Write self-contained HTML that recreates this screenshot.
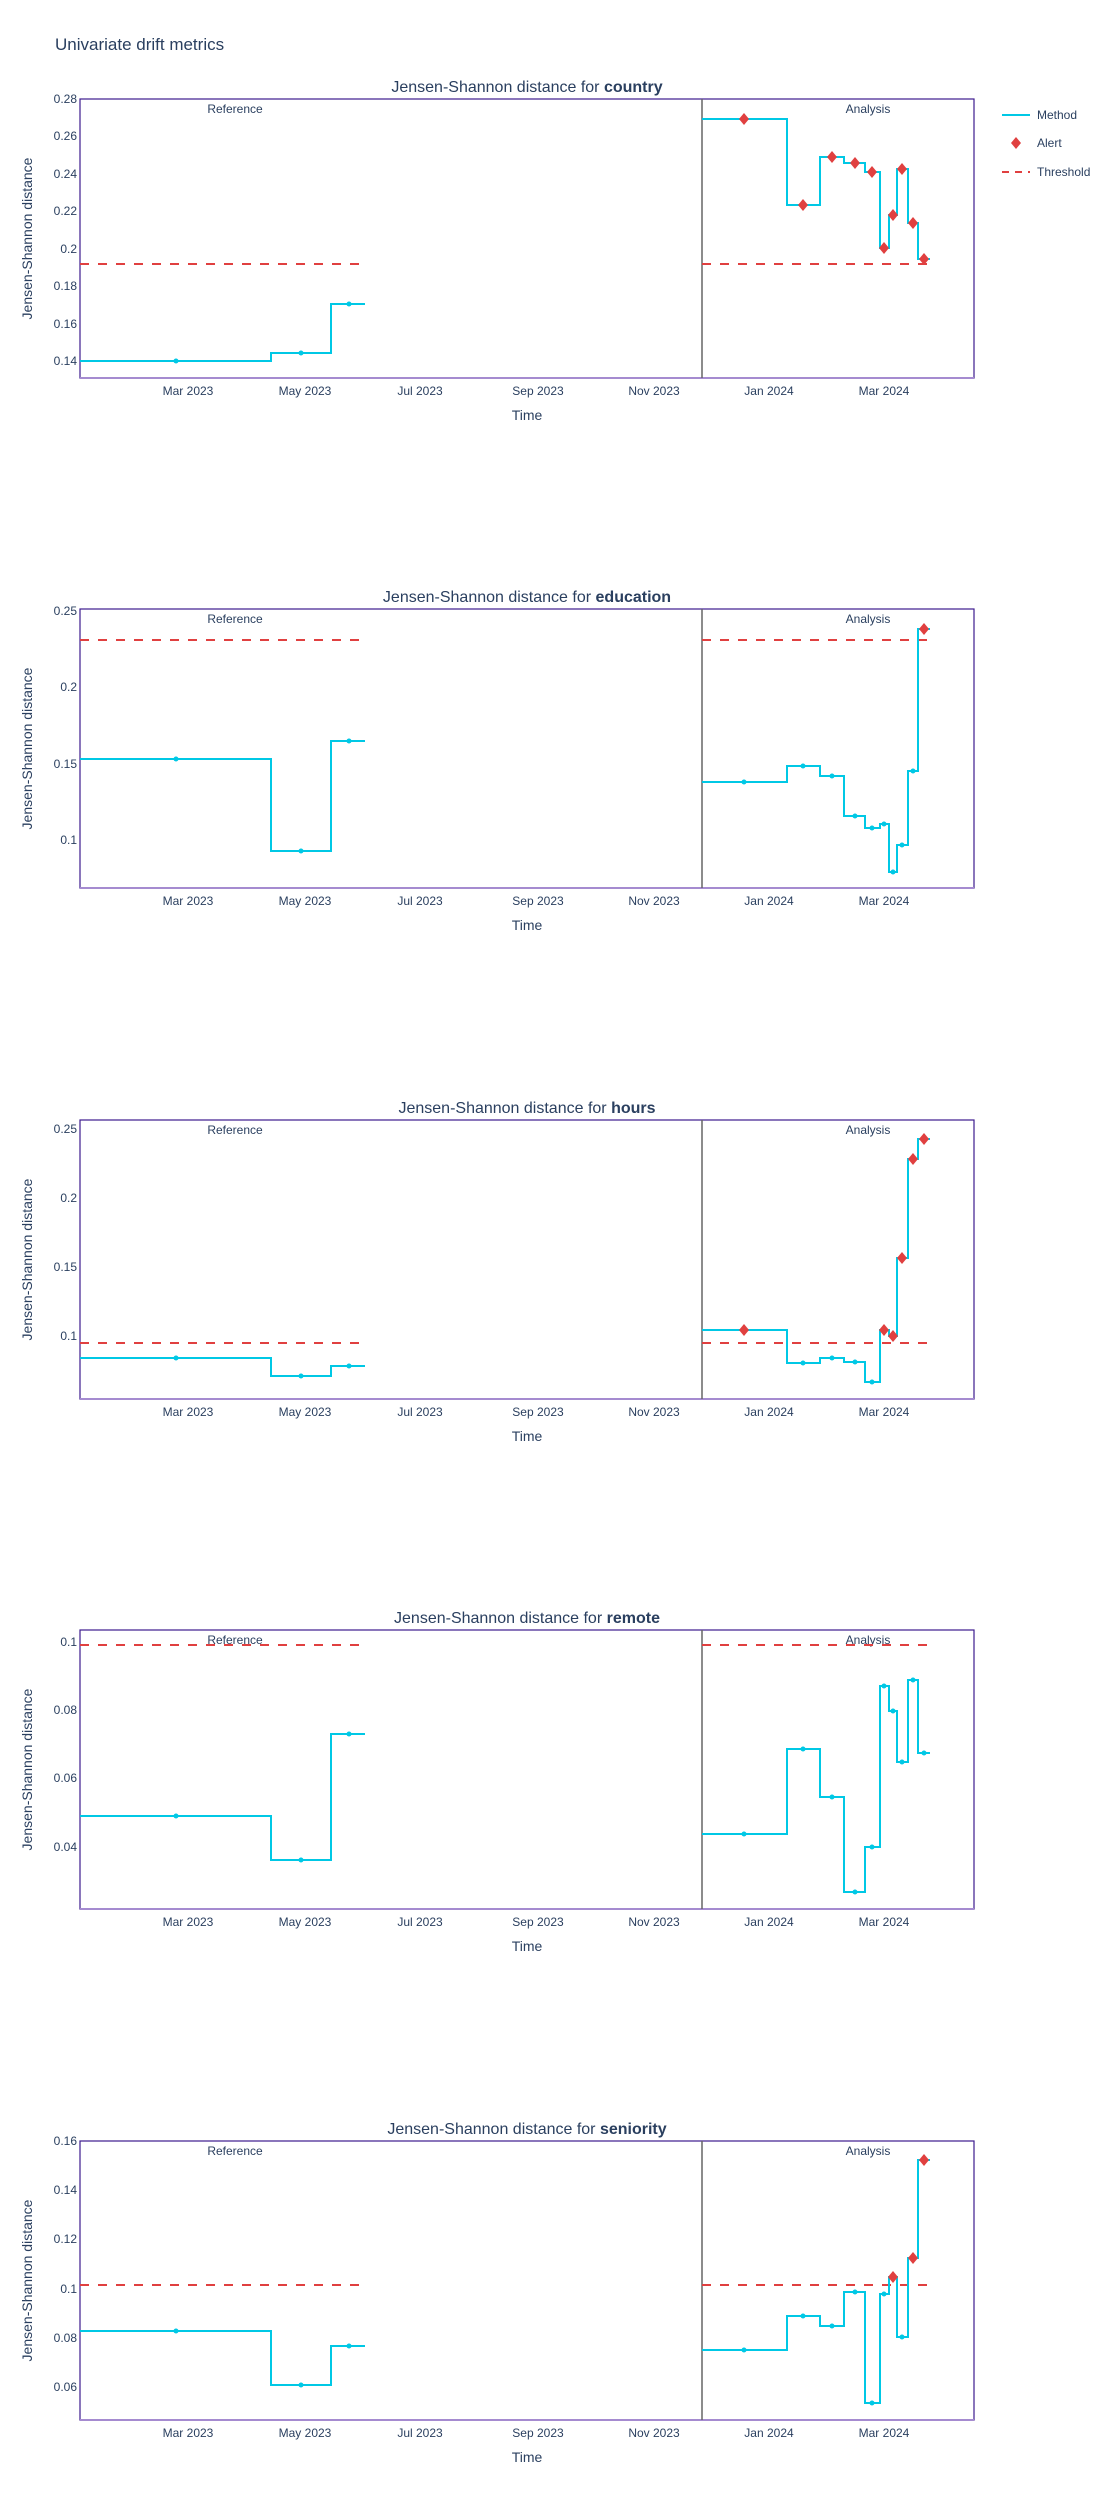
<!DOCTYPE html>
<html><head><meta charset="utf-8"><style>
body{margin:0;background:#fff;}
svg{display:block;font-family:"Liberation Sans",sans-serif;}
</style></head><body>
<svg id="s" width="1106" height="2500" xmlns="http://www.w3.org/2000/svg">
<rect width="1106" height="2500" fill="#fff"/>
<text x="55" y="50" font-size="17" fill="#2a3f5f">Univariate drift metrics</text>
<g id="g"></g>
</svg>
<script>
const L=80,R=974,D=702;
const xt=[[188,'Mar 2023'],[305,'May 2023'],[420,'Jul 2023'],[538,'Sep 2023'],[654,'Nov 2023'],[769,'Jan 2024'],[884,'Mar 2024']];
const refX=[80,271,331,365], refM=[176,301,349];
const anX=[702,787,820,844,865,880,889,897,908,918,930];
const anM=[744,803,832,855,872,884,893,902,913,924];
const P=[
 {t:99,name:'country',ticks:[[0.28,99],[0.26,136],[0.24,174],[0.22,211],[0.2,249],[0.18,286],[0.16,324],[0.14,361]],
  ref:[361,353,304],thr:264,an:[119,205,157,163,172,248,215,169,223,259],al:[1,1,1,1,1,1,1,1,1,1]},
 {t:609,name:'education',ticks:[[0.25,611],[0.2,687],[0.15,764],[0.1,840]],
  ref:[759,851,741],thr:640,an:[782,766,776,816,828,824,872,845,771,629],al:[0,0,0,0,0,0,0,0,0,1]},
 {t:1120,name:'hours',ticks:[[0.25,1129],[0.2,1198],[0.15,1267],[0.1,1336]],
  ref:[1358,1376,1366],thr:1343,an:[1330,1363,1358,1362,1382,1330,1336,1258,1159,1139],al:[1,0,0,0,0,1,1,1,1,1]},
 {t:1630,name:'remote',ticks:[[0.1,1642],[0.08,1710],[0.06,1778],[0.04,1847]],
  ref:[1816,1860,1734],thr:1645,an:[1834,1749,1797,1892,1847,1686,1711,1762,1680,1753],al:[0,0,0,0,0,0,0,0,0,0]},
 {t:2141,name:'seniority',ticks:[[0.16,2141],[0.14,2190],[0.12,2239],[0.1,2289],[0.08,2338],[0.06,2387]],
  ref:[2331,2385,2346],thr:2285,an:[2350,2316,2326,2292,2403,2294,2277,2337,2258,2160],al:[0,0,0,0,0,0,1,0,1,1]}
];
let h='';
const C='#00c8e5',TC='#2a3f5f';
function step(xs,ys){let d='M'+xs[0]+' '+ys[0];for(let i=0;i<ys.length;i++){d+=' L'+xs[i+1]+' '+ys[i];if(i+1<ys.length)d+=' L'+xs[i+1]+' '+ys[i+1];}return d;}
function dia(x,y){return `<path d="M${x} ${y-6} L${x+5} ${y} L${x} ${y+6} L${x-5} ${y} Z" fill="#e04040"/>`;}
P.forEach(p=>{
 const T=p.t,B=T+279;
 h+=`<text x="527" y="${T-7}" font-size="16" fill="${TC}" text-anchor="middle">Jensen-Shannon distance for <tspan font-weight="bold">${p.name}</tspan></text>`;
 h+=`<rect x="${L}" y="${T}" width="${R-L}" height="${B-T}" fill="none" stroke="#3d1a8e" stroke-width="1.2"/>`;
 h+=`<line x1="${L}" y1="${B}" x2="${R}" y2="${B}" stroke="#a58bd0" stroke-width="2"/>`;
 h+=`<line x1="${D}" y1="${T}" x2="${D}" y2="${B}" stroke="#666" stroke-width="1.5"/>`;
 h+=`<text x="235" y="${T+14}" font-size="12" fill="${TC}" text-anchor="middle">Reference</text>`;
 h+=`<text x="868" y="${T+14}" font-size="12" fill="${TC}" text-anchor="middle">Analysis</text>`;
 p.ticks.forEach(([v,y])=>{h+=`<text x="${L-3}" y="${y+4}" font-size="12" fill="${TC}" text-anchor="end">${v}</text>`;});
 xt.forEach(([x,s])=>{h+=`<text x="${x}" y="${B+17}" font-size="12" fill="${TC}" text-anchor="middle">${s}</text>`;});
 h+=`<text x="527" y="${B+42}" font-size="14" fill="${TC}" text-anchor="middle">Time</text>`;
 h+=`<text transform="translate(32 ${(T+B)/2}) rotate(-90)" font-size="14" fill="${TC}" text-anchor="middle">Jensen-Shannon distance</text>`;
 h+=`<line x1="${L}" y1="${p.thr}" x2="365" y2="${p.thr}" stroke="#e04040" stroke-width="2" stroke-dasharray="9 9"/>`;
 h+=`<line x1="${D}" y1="${p.thr}" x2="928" y2="${p.thr}" stroke="#e04040" stroke-width="2" stroke-dasharray="9 9"/>`;
 h+=`<path d="${step(refX,p.ref)}" fill="none" stroke="${C}" stroke-width="2"/>`;
 h+=`<path d="${step(anX,p.an)}" fill="none" stroke="${C}" stroke-width="2"/>`;
 refM.forEach((x,i)=>{h+=`<circle cx="${x}" cy="${p.ref[i]}" r="2.5" fill="${C}"/>`;});
 anM.forEach((x,i)=>{h+= p.al[i]?dia(x,p.an[i]):`<circle cx="${x}" cy="${p.an[i]}" r="2.5" fill="${C}"/>`;});
});
h+=`<line x1="1002" y1="115" x2="1030" y2="115" stroke="${C}" stroke-width="2"/><text x="1037" y="119" font-size="12" fill="${TC}">Method</text>`;
h+=dia(1016,143)+`<text x="1037" y="147" font-size="12" fill="${TC}">Alert</text>`;
h+=`<line x1="1002" y1="172" x2="1030" y2="172" stroke="#e04040" stroke-width="2" stroke-dasharray="7 6"/><text x="1037" y="176" font-size="12" fill="${TC}">Threshold</text>`;
document.getElementById('g').innerHTML=h;
</script>
</body></html>
